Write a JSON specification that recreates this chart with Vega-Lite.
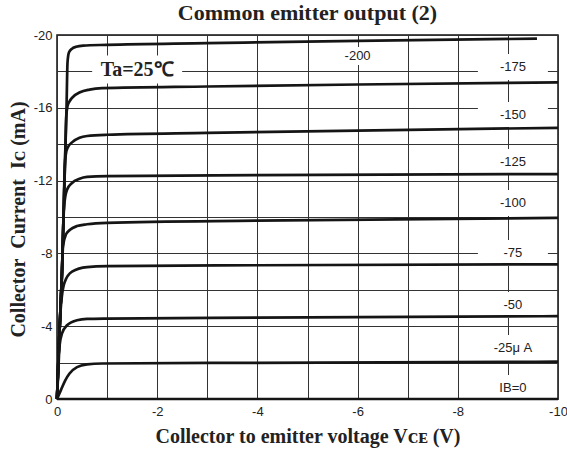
{
  "$schema": "https://vega.github.io/schema/vega-lite/v6.json",
  "width": 501,
  "height": 364,
  "autosize": "none",
  "padding": {"left": 57, "top": 35, "right": 9, "bottom": 50},
  "background": "white",
  "title": {"text": "Common emitter output (2)", "font": "Liberation Serif", "fontSize": 22, "fontWeight": "bold", "color": "#222222", "anchor": "middle", "offset": 4},
  "config": {"view": {"stroke": "#111111", "strokeWidth": 1.5}},
  "datasets": {
    "curves": [
      {"ib": "0", "v": 0, "i": 0}, {"ib": "0", "v": -10, "i": 0},
      {"ib": "-25", "v": 0, "i": 0}, {"ib": "-25", "v": -0.08, "i": -0.5}, {"ib": "-25", "v": -0.16, "i": -1.0}, {"ib": "-25", "v": -0.25, "i": -1.4}, {"ib": "-25", "v": -0.4, "i": -1.75}, {"ib": "-25", "v": -0.6, "i": -1.9}, {"ib": "-25", "v": -0.9, "i": -1.95}, {"ib": "-25", "v": -4, "i": -1.99}, {"ib": "-25", "v": -10, "i": -2.05},
      {"ib": "-50", "v": 0, "i": 0}, {"ib": "-50", "v": -0.03, "i": -1.8}, {"ib": "-50", "v": -0.05, "i": -2.9}, {"ib": "-50", "v": -0.1, "i": -3.6}, {"ib": "-50", "v": -0.2, "i": -4.05}, {"ib": "-50", "v": -0.4, "i": -4.33}, {"ib": "-50", "v": -0.6, "i": -4.4}, {"ib": "-50", "v": -1, "i": -4.42}, {"ib": "-50", "v": -4, "i": -4.47}, {"ib": "-50", "v": -10, "i": -4.55},
      {"ib": "-75", "v": 0, "i": 0}, {"ib": "-75", "v": -0.04, "i": -3}, {"ib": "-75", "v": -0.07, "i": -4.8}, {"ib": "-75", "v": -0.1, "i": -5.7}, {"ib": "-75", "v": -0.15, "i": -6.4}, {"ib": "-75", "v": -0.3, "i": -7.0}, {"ib": "-75", "v": -0.6, "i": -7.25}, {"ib": "-75", "v": -1, "i": -7.3}, {"ib": "-75", "v": -4, "i": -7.35}, {"ib": "-75", "v": -10, "i": -7.4},
      {"ib": "-100", "v": 0, "i": 0}, {"ib": "-100", "v": -0.04, "i": -3}, {"ib": "-100", "v": -0.07, "i": -5}, {"ib": "-100", "v": -0.1, "i": -7}, {"ib": "-100", "v": -0.12, "i": -8.4}, {"ib": "-100", "v": -0.18, "i": -9.05}, {"ib": "-100", "v": -0.26, "i": -9.3}, {"ib": "-100", "v": -0.4, "i": -9.5}, {"ib": "-100", "v": -0.6, "i": -9.6}, {"ib": "-100", "v": -1, "i": -9.68}, {"ib": "-100", "v": -4, "i": -9.8}, {"ib": "-100", "v": -10, "i": -9.95},
      {"ib": "-125", "v": 0, "i": 0}, {"ib": "-125", "v": -0.04, "i": -3}, {"ib": "-125", "v": -0.07, "i": -5}, {"ib": "-125", "v": -0.1, "i": -7}, {"ib": "-125", "v": -0.125, "i": -9.6}, {"ib": "-125", "v": -0.15, "i": -10.8}, {"ib": "-125", "v": -0.2, "i": -11.5}, {"ib": "-125", "v": -0.3, "i": -11.87}, {"ib": "-125", "v": -0.45, "i": -12.1}, {"ib": "-125", "v": -0.6, "i": -12.2}, {"ib": "-125", "v": -1, "i": -12.25}, {"ib": "-125", "v": -4, "i": -12.3}, {"ib": "-125", "v": -10, "i": -12.36},
      {"ib": "-150", "v": 0, "i": 0}, {"ib": "-150", "v": -0.04, "i": -3}, {"ib": "-150", "v": -0.07, "i": -5}, {"ib": "-150", "v": -0.1, "i": -7}, {"ib": "-150", "v": -0.13, "i": -10}, {"ib": "-150", "v": -0.155, "i": -12.8}, {"ib": "-150", "v": -0.18, "i": -13.5}, {"ib": "-150", "v": -0.22, "i": -13.85}, {"ib": "-150", "v": -0.3, "i": -14.1}, {"ib": "-150", "v": -0.45, "i": -14.35}, {"ib": "-150", "v": -0.6, "i": -14.45}, {"ib": "-150", "v": -1, "i": -14.52}, {"ib": "-150", "v": -3, "i": -14.62}, {"ib": "-150", "v": -6, "i": -14.75}, {"ib": "-150", "v": -10, "i": -14.9},
      {"ib": "-175", "v": 0, "i": 0}, {"ib": "-175", "v": -0.04, "i": -3}, {"ib": "-175", "v": -0.07, "i": -5}, {"ib": "-175", "v": -0.1, "i": -7}, {"ib": "-175", "v": -0.13, "i": -10}, {"ib": "-175", "v": -0.16, "i": -13}, {"ib": "-175", "v": -0.185, "i": -15.5}, {"ib": "-175", "v": -0.21, "i": -16.1}, {"ib": "-175", "v": -0.25, "i": -16.35}, {"ib": "-175", "v": -0.3, "i": -16.55}, {"ib": "-175", "v": -0.46, "i": -16.85}, {"ib": "-175", "v": -0.65, "i": -17.0}, {"ib": "-175", "v": -0.9, "i": -17.08}, {"ib": "-175", "v": -3, "i": -17.17}, {"ib": "-175", "v": -6, "i": -17.28}, {"ib": "-175", "v": -10, "i": -17.4},
      {"ib": "-200", "v": 0, "i": 0}, {"ib": "-200", "v": -0.04, "i": -3}, {"ib": "-200", "v": -0.07, "i": -5}, {"ib": "-200", "v": -0.1, "i": -7}, {"ib": "-200", "v": -0.13, "i": -10}, {"ib": "-200", "v": -0.16, "i": -13}, {"ib": "-200", "v": -0.19, "i": -16}, {"ib": "-200", "v": -0.21, "i": -18.5}, {"ib": "-200", "v": -0.24, "i": -19.05}, {"ib": "-200", "v": -0.3, "i": -19.25}, {"ib": "-200", "v": -0.38, "i": -19.35}, {"ib": "-200", "v": -0.52, "i": -19.42}, {"ib": "-200", "v": -1, "i": -19.46}, {"ib": "-200", "v": -3, "i": -19.55}, {"ib": "-200", "v": -6, "i": -19.68}, {"ib": "-200", "v": -9.58, "i": -19.8}
    ],
    "labels": [
      {"kind": "top", "label": "-200", "v": -6.0, "i": -18.85},
      {"kind": "side", "label": "-175", "v": -9.1, "i": -18.24},
      {"kind": "side", "label": "-150", "v": -9.1, "i": -15.6},
      {"kind": "side", "label": "-125", "v": -9.1, "i": -13.02},
      {"kind": "side", "label": "-100", "v": -9.1, "i": -10.77},
      {"kind": "side", "label": "-75", "v": -9.1, "i": -8.02},
      {"kind": "side", "label": "-50", "v": -9.1, "i": -5.16},
      {"kind": "side", "label": "-25μ A", "v": -9.1, "i": -2.8},
      {"kind": "side", "label": "IB=0", "v": -9.1, "i": -0.6}
    ],
    "notes": [
      {"label": "Ta=25℃", "v": -1.6, "i": -18.1}
    ]
  },
  "encoding": {
    "x": {
      "field": "v", "type": "quantitative",
      "scale": {"domain": [0, -10], "nice": false, "zero": false},
      "axis": {
        "values": [0, -1, -2, -3, -4, -5, -6, -7, -8, -9, -10],
        "labelExpr": "datum.value % 2 == 0 ? (datum.value == 0 ? '0' : '-' + abs(datum.value)) : ''",
        "ticks": false, "domain": false, "grid": true, "gridColor": "#333333", "gridWidth": 1, "gridOpacity": 1,
        "labelFont": "Liberation Sans", "labelFontSize": 13, "labelColor": "#222222", "labelPadding": 6,
        "labelFlush": false, "labelOverlap": false,
        "title": "Collector to emitter voltage Vᴄᴇ (V)",
        "titleFont": "Liberation Serif", "titleFontSize": 20, "titleFontWeight": "bold", "titleColor": "#222222",
        "titleY": 27
      }
    },
    "y": {
      "field": "i", "type": "quantitative",
      "scale": {"domain": [0, -20], "nice": false, "zero": false},
      "axis": {
        "values": [0, -2, -4, -6, -8, -10, -12, -14, -16, -18, -20],
        "labelExpr": "datum.value % 4 == 0 ? (datum.value == 0 ? '0' : '-' + abs(datum.value)) : ''",
        "ticks": false, "domain": false, "grid": true, "gridColor": "#333333", "gridWidth": 1, "gridOpacity": 1,
        "labelFont": "Liberation Sans", "labelFontSize": 13, "labelColor": "#222222", "labelPadding": 5,
        "labelFlush": false, "labelOverlap": false,
        "title": "Collector\u00a0\u00a0Current\u00a0\u00a0Iᴄ\u00a0(mA)",
        "titleFont": "Liberation Serif", "titleFontSize": 20, "titleFontWeight": "bold", "titleColor": "#222222",
        "titleX": -29, "titleY": 184
      }
    }
  },
  "layer": [
    {
      "data": {"name": "labels"},
      "transform": [{"filter": "datum.kind == 'side'"}],
      "mark": {"type": "point", "shape": "M-1,-0.371H1V0.371H-1Z", "size": 4900, "filled": true, "color": "white", "opacity": 1, "strokeWidth": 0}
    },
    {
      "data": {"name": "labels"},
      "transform": [{"filter": "datum.kind == 'top'"}],
      "mark": {"type": "point", "shape": "M-1,-0.45H1V0.45H-1Z", "size": 1600, "filled": true, "color": "white", "opacity": 1, "strokeWidth": 0}
    },
    {
      "data": {"name": "notes"},
      "mark": {"type": "point", "shape": "M-1,-0.311H1V0.311H-1Z", "size": 8100, "filled": true, "color": "white", "opacity": 1, "strokeWidth": 0}
    },
    {
      "data": {"name": "curves"},
      "mark": {"type": "line", "interpolate": "monotone", "color": "#151515", "strokeWidth": 2.7},
      "encoding": {
        "detail": {"field": "ib"},
        "order": {"field": "v", "sort": "descending"}
      }
    },
    {
      "data": {"name": "labels"},
      "mark": {"type": "text", "font": "Liberation Sans", "fontSize": 13, "color": "#222222", "align": "center", "baseline": "middle"},
      "encoding": {"text": {"field": "label"}}
    },
    {
      "data": {"name": "notes"},
      "mark": {"type": "text", "font": "Liberation Serif", "fontSize": 20, "fontWeight": "bold", "color": "#222222", "align": "center", "baseline": "middle"},
      "encoding": {"text": {"field": "label"}}
    }
  ]
}
